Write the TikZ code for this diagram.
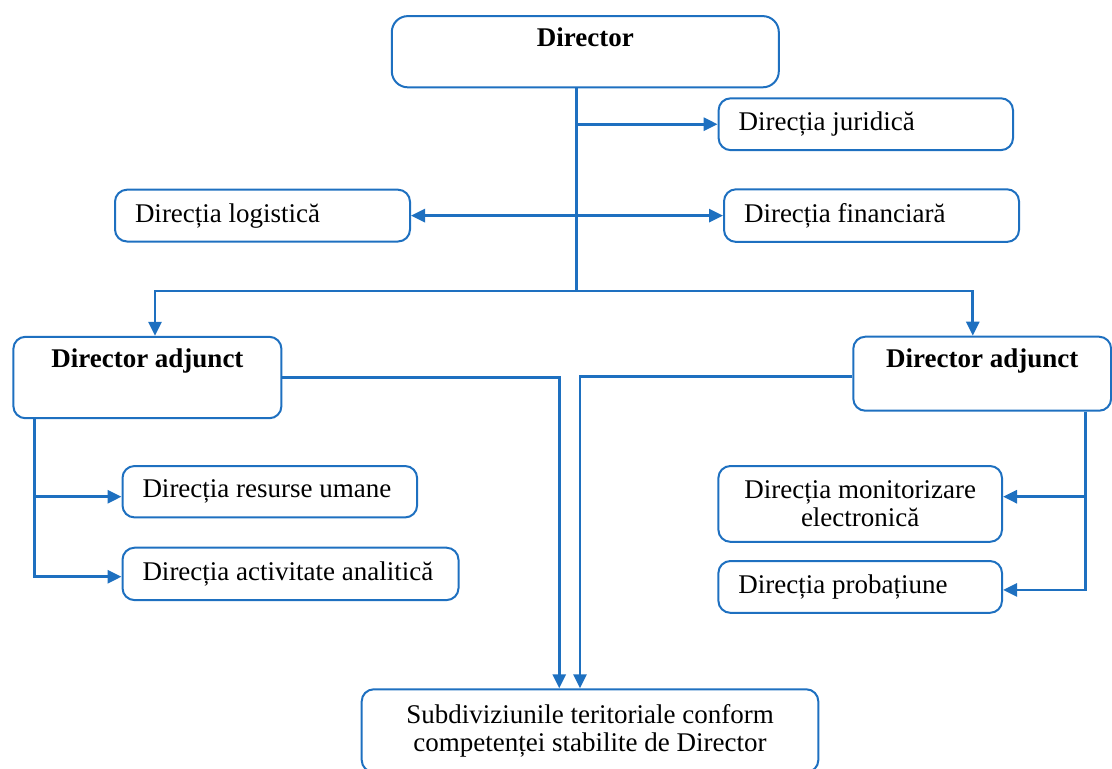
\documentclass[tikz,border=0pt]{standalone}
\usepackage{fontspec}
\setmainfont{Liberation Serif}
\usetikzlibrary{arrows.meta}

\definecolor{orgblue}{RGB}{30,112,192}

\begin{document}
\begin{tikzpicture}[x=0.5pt, y=-0.5pt, >={Triangle[length=7pt,width=6.5pt]},
  box/.style={draw=orgblue, line width=1pt, rounded corners=6pt, inner xsep=10pt, inner ysep=0pt, align=flush left, font=\fontsize{13.5}{14.2}\selectfont},
  head/.style={box, align=center, font=\fontsize{13.5}{14.2}\selectfont\bfseries},
  link/.style={draw=orgblue, line width=1.4pt},
  arr/.style={link, ->}]
\useasboundingbox (0,0) rectangle (1112,768);
\clip (0,0) rectangle (1112,768);
\node[head, rounded corners=8pt, minimum width=193.5pt, minimum height=35.6pt, text height=15.3pt, text depth=20.3pt] (dir) at (585.3,51.7) {Director};
\node[box, text width=127.2pt, minimum height=25.9pt] (jur) at (865.8,124.2) {Direcția juridică};
\node[box, text width=127.5pt, minimum height=25.9pt] (log) at (262.5,215.6) {Direcția logistică};
\node[box, text width=127.5pt, minimum height=26.3pt] (fin) at (871.5,215.6) {Direcția financiară};
\node[head, minimum width=134pt, minimum height=40.7pt, text height=15.5pt, text depth=25.2pt] (da1) at (147.4,377.5) {Director adjunct};
\node[head, minimum width=128.9pt, minimum height=37pt, text height=15.6pt, text depth=21.4pt] (da2) at (982.2,373.7) {Director adjunct};
\node[box, text width=127.3pt, minimum height=25.7pt] (res) at (269.8,491.7) {Direcția resurse umane};
\node[box, text width=148pt, minimum height=26.2pt] (ana) at (290.5,573.9) {Direcția activitate analitică};
\node[box, align=center, minimum width=141.8pt, minimum height=37.9pt] (mon) at (860.2,503.9) {Direcția monitorizare\\electronică};
\node[box, text width=121.8pt, minimum height=25.9pt] (prob) at (860.2,586.9) {Direcția probațiune};
\node[box, align=center, minimum width=228.3pt, minimum height=41.4pt] (sub) at (590,730.7) {Subdiviziunile teritoriale conform\\competenței stabilite de Director};
\coordinate (hub) at (576.7,291);
\draw[link] (dir.south -| hub) -- (hub);
\draw[arr] (hub |- jur.west) -- (jur.west);
\draw[link, <->] (log.east) -- (fin.west);
\draw[arr] (hub) -| ([xshift=3.8pt]da1.north);
\draw[arr] (hub) -| ([xshift=-4.7pt]da2.north);
\draw[arr] (da1.east) -| ([xshift=-15.4pt]sub.north);
\draw[arr] ([yshift=-1.5pt]da2.west) -| ([xshift=-5pt]sub.north);
\draw[arr] ([xshift=11.1pt]da1.south west) |- ([yshift=-2.5pt]res.west);
\draw[arr] ([xshift=11.1pt]da1.south west) |- ([yshift=-1.4pt]ana.west);
\draw[arr] ([xshift=-13.2pt]da2.south east) |- ([yshift=3.6pt]mon.east);
\draw[arr] ([xshift=-13.2pt]da2.south east) |- ([yshift=-1.5pt]prob.east);
\end{tikzpicture}
\end{document}
